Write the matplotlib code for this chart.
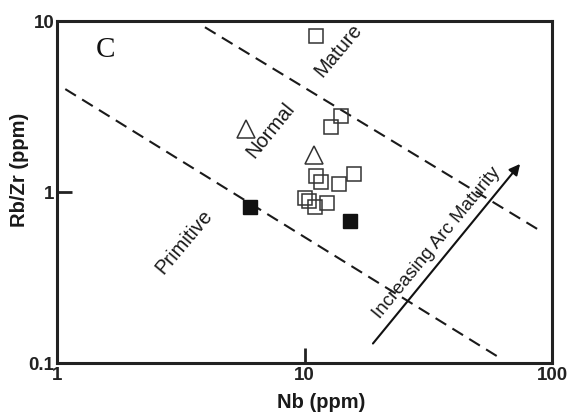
import matplotlib
matplotlib.use('Agg')
import matplotlib.pyplot as plt
from matplotlib.ticker import FixedLocator, FixedFormatter, NullLocator

plt.rcParams['font.family'] = ['Liberation Sans', 'DejaVu Sans']

# open squares
sq_nb = [11.1, 14.0, 12.8, 11.1, 11.7, 13.8, 15.9, 10.0, 10.4, 11.0, 12.3]
sq_rbzr = [8.2, 2.8, 2.4, 1.24, 1.14, 1.11, 1.27, 0.92, 0.89, 0.82, 0.86]
# open triangles
tri_nb = [5.8, 10.9]
tri_rbzr = [2.33, 1.64]
# filled squares
fsq_nb = [6.0, 15.3]
fsq_rbzr = [0.82, 0.68]

# field boundaries (dashed)
line1_nb = [1.08, 61.6]
line1_rbzr = [4.0, 0.107]
line2_nb = [3.96, 92.0]
line2_rbzr = [9.2, 0.58]

# arrow
arrow_start = (18.9, 0.13)
arrow_end = (74.3, 1.46)

ink = '#1a1a1a'

fig = plt.figure(figsize=(5.73, 4.16), dpi=100)
ax = fig.add_axes([0.0995, 0.1274, 0.8639, 0.822])
ax.set_xscale('log')
ax.set_yscale('log')
ax.set_xlim(1, 100)
ax.set_ylim(0.1, 10)

dash = (0, (6, 3.5))
ax.plot(line1_nb, line1_rbzr, color=ink, lw=1.5, linestyle=dash)
ax.plot(line2_nb, line2_rbzr, color=ink, lw=1.5, linestyle=dash)

ax.plot(sq_nb, sq_rbzr, 's', ms=10, mfc='none', mec='#333333', mew=1.1)
ax.plot(tri_nb, tri_rbzr, '^', ms=13, mfc='none', mec='#333333', mew=1.1)
ax.plot(fsq_nb, fsq_rbzr, 's', ms=9.5, mfc='#111111', mec='#111111')

ax.annotate('', xy=arrow_end, xytext=arrow_start,
            arrowprops=dict(arrowstyle='-|>', color='#111111', lw=1.5,
                            mutation_scale=16, shrinkA=0, shrinkB=0))

ax.text(34.3, 0.503, 'Increasing Arc Maturity', rotation=50.6, fontsize=13.5,
        ha='center', va='center', rotation_mode='anchor', color=ink)
ax.text(3.25, 0.51, 'Primitive', rotation=50, fontsize=14.5,
        ha='center', va='center', rotation_mode='anchor', color=ink)
ax.text(7.3, 2.3, 'Normal', rotation=51, fontsize=14.5,
        ha='center', va='center', rotation_mode='anchor', color=ink)
ax.text(13.66, 6.76, 'Mature', rotation=50, fontsize=14.5,
        ha='center', va='center', rotation_mode='anchor', color=ink)
ax.text(1.57, 6.76, 'C', fontsize=21, family='Liberation Serif',
        ha='center', va='center', color='#111111')

for s in ax.spines.values():
    s.set_linewidth(2.2)
    s.set_color('#222222')

ax.xaxis.set_major_locator(FixedLocator([1, 10, 100]))
ax.xaxis.set_major_formatter(FixedFormatter(['1', '10', '100']))
ax.yaxis.set_major_locator(FixedLocator([0.1, 1, 10]))
ax.yaxis.set_major_formatter(FixedFormatter(['0.1', '1', '10']))
ax.xaxis.set_minor_locator(NullLocator())
ax.yaxis.set_minor_locator(NullLocator())
ax.tick_params(direction='in', length=11, width=2, labelsize=13.5,
               colors='#222222', pad=3)
ax.tick_params(axis='y', pad=2)
for lab in ax.get_xticklabels() + ax.get_yticklabels():
    lab.set_fontweight('bold')

fig.text(321 / 573, 1 - 403 / 416, 'Nb (ppm)', fontsize=14.5, fontweight='bold',
         color=ink, ha='center', va='center')
fig.text(20 / 573, 1 - 170 / 416, 'Rb/Zr (ppm)', fontsize=14.5, fontweight='bold',
         color=ink, ha='center', va='center', rotation=90)

fig.savefig('out.png', dpi=100)
